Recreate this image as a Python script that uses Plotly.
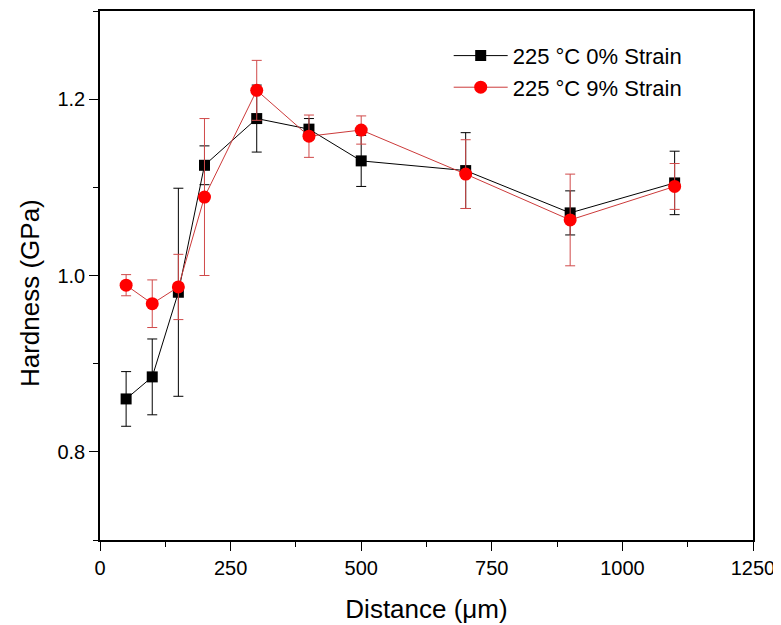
import plotly.graph_objects as go

distance = [50, 100, 150, 200, 300, 400, 500, 700, 900, 1100]

hard_0 = [0.860, 0.885, 0.981, 1.125, 1.178, 1.166, 1.130, 1.119, 1.071, 1.105]
err_0 = [0.031, 0.043, 0.118, 0.022, 0.038, 0.012, 0.029, 0.043, 0.025, 0.036]

hard_9 = [0.989, 0.968, 0.987, 1.089, 1.210, 1.158, 1.165, 1.115, 1.063, 1.101]
err_9 = [0.012, 0.027, 0.037, 0.089, 0.034, 0.024, 0.016, 0.039, 0.052, 0.026]

name_0 = "225 °C 0% Strain"
name_9 = "225 °C 9% Strain"
y_title = "Hardness (GPa)"
x_title = "Distance (μm)"

FONT = "Liberation Sans, Arial, sans-serif"

fig = go.Figure()
fig.add_trace(go.Scatter(
    x=distance, y=hard_0, name=name_0, mode="lines+markers",
    line=dict(color="black", width=1),
    marker=dict(symbol="square", size=11, color="black"),
    error_y=dict(type="data", array=err_0, visible=True, color="black",
                 thickness=1, width=5),
))
fig.add_trace(go.Scatter(
    x=distance, y=hard_9, name=name_9, mode="lines+markers",
    line=dict(color="#cc3a3a", width=1),
    marker=dict(symbol="circle", size=13, color="#ff0000"),
    error_y=dict(type="data", array=err_9, visible=True, color="#d04a4a",
                 thickness=1, width=5),
))

axis_common = dict(
    showline=True, linecolor="black", linewidth=1.5, mirror=True,
    ticks="outside", ticklen=9, tickwidth=1.2, tickcolor="black",
    showgrid=False, zeroline=False, automargin=False,
    tickfont=dict(family=FONT, size=20, color="black"),
)

fig.update_xaxes(
    range=[0, 1250], tick0=0, dtick=250,
    title=dict(text=x_title, font=dict(family=FONT, size=26, color="black"), standoff=22),
    minor=dict(ticks="outside", ticklen=5, dtick=125, tickcolor="black", tickwidth=1),
    **axis_common,
)
fig.update_yaxes(
    range=[0.7, 1.3], tick0=0.8, dtick=0.2, tickformat=".1f",
    minor=dict(ticks="outside", ticklen=5, dtick=0.1, tickcolor="black", tickwidth=1),
    **axis_common,
)

fig.add_annotation(
    text=y_title, textangle=-90, showarrow=False,
    xref="paper", yref="paper", x=-0.107, y=0.467,
    xanchor="center", yanchor="middle",
    font=dict(family=FONT, size=26, color="black"),
)

fig.update_layout(
    width=773, height=617,
    margin=dict(l=92, r=28, t=3, b=85),
    paper_bgcolor="white", plot_bgcolor="white",
    font=dict(family=FONT, color="black"),
    legend=dict(
        x=0.534, y=0.955, xanchor="left", yanchor="top",
        font=dict(family=FONT, size=22, color="black"),
        bgcolor="rgba(0,0,0,0)", itemwidth=54,
    ),
)

fig.write_html("out.html")
